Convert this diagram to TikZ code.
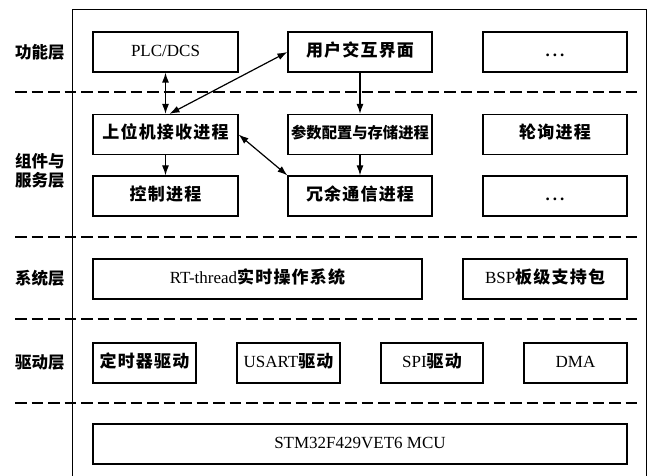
\documentclass[tikz,border=0pt]{standalone}
\usepackage{fontspec}
\setmainfont{Liberation Serif}
\newfontfamily\cjk{Noto Sans CJK SC}[LetterSpace=7]
\newfontfamily\cjktight{Noto Sans CJK SC}
\usetikzlibrary{arrows.meta}

\begin{document}
\begin{tikzpicture}[x=1pt,y=-1pt,
  box/.style={draw, line width=1.2pt, minimum height=40pt, inner sep=0pt,
    font=\fontsize{17}{20}\selectfont, text height=12pt, text depth=3pt},
  layer/.style={font=\cjktight\bfseries\fontsize{16.5}{19}\selectfont, align=center, inner sep=0pt},
  sep/.style={line width=2pt, dash pattern=on 11.5pt off 5pt},
  tip/.style={Latex[length=10pt,width=7pt]},
  dbl/.style={line width=1.2pt, {Latex[length=10pt,width=7pt]}-{Latex[length=10pt,width=7pt]}},
  sgl/.style={line width=1.2pt, -{Latex[length=10pt,width=7pt]}}
]
\useasboundingbox (0,0) rectangle (648,476);

% outer frame, open at the bottom
\draw[line width=1pt] (72,476) -- (72,10) -- (646,10) -- (646,476);

% layer separators
\foreach \yy in {92,237,319,403}
  \draw[sep] (15,\yy) -- (637,\yy);

% layer names
\node[layer] (lfun) at (40,52) {功能层};
\node[layer] (lsvc) at (40,171) {组件与\\服务层};
\node[layer] (lsys) at (40,278) {系统层};
\node[layer] (ldrv) at (40,362) {驱动层};

% function layer
\node[box, minimum width=145pt] (plc) at (165.5,52) {PLC/DCS};
\node[box, minimum width=144pt] (ui) at (360,52) {\cjk\bfseries 用户交互界面};
\node[box, minimum width=144pt] (more1) at (555,52) {\textbf{.\hspace{3pt}.\hspace{3pt}.}};

% component and service layer
\node[box, minimum width=145pt] (host) at (165.5,134.5) {\cjk\bfseries 上位机接收进程};
\node[box, minimum width=144pt] (param) at (360,134.5) {\cjktight\bfseries\fontsize{15.3}{18}\selectfont 参数配置与存储进程};
\node[box, minimum width=144pt] (poll) at (555,134.5) {\cjk\bfseries 轮询进程};
\node[box, minimum width=145pt] (ctrl) at (165.5,196) {\cjk\bfseries 控制进程};
\node[box, minimum width=144pt] (redund) at (360,196) {\cjk\bfseries 冗余通信进程};
\node[box, minimum width=144pt] (more2) at (555,196) {\textbf{.\hspace{3pt}.\hspace{3pt}.}};

% system layer
\node[box, minimum width=329pt] (rtos) at (257.5,279) {RT-thread{\cjk\bfseries 实时操作系统}};
\node[box, minimum width=164pt] (bsp) at (545,279) {BSP{\cjk\bfseries 板级支持包}};

% driver layer
\node[box, minimum width=103pt] (timer) at (144.5,363) {\cjk\bfseries 定时器驱动};
\node[box, minimum width=103pt] (usart) at (288.5,363) {USART{\cjk\bfseries 驱动}};
\node[box, minimum width=102pt] (spi) at (432,363) {SPI{\cjk\bfseries 驱动}};
\node[box, minimum width=103pt] (dma) at (575.5,363) {DMA};

% hardware
\node[box, minimum width=534pt] (mcu) at (360,444) {STM32F429VET6 MCU};

% connections
\draw[dbl] (plc.south) -- (host.north);
\draw[dbl] ([xshift=4pt]host.north) -- (ui.west);
\draw[sgl] (ui.south) -- (param.north);
\draw[sgl] (param.south) -- (redund.north);
\draw[sgl] (host.south) -- (ctrl.north);
\draw[dbl] (host.east) -- (redund.north west);
\end{tikzpicture}
\end{document}
